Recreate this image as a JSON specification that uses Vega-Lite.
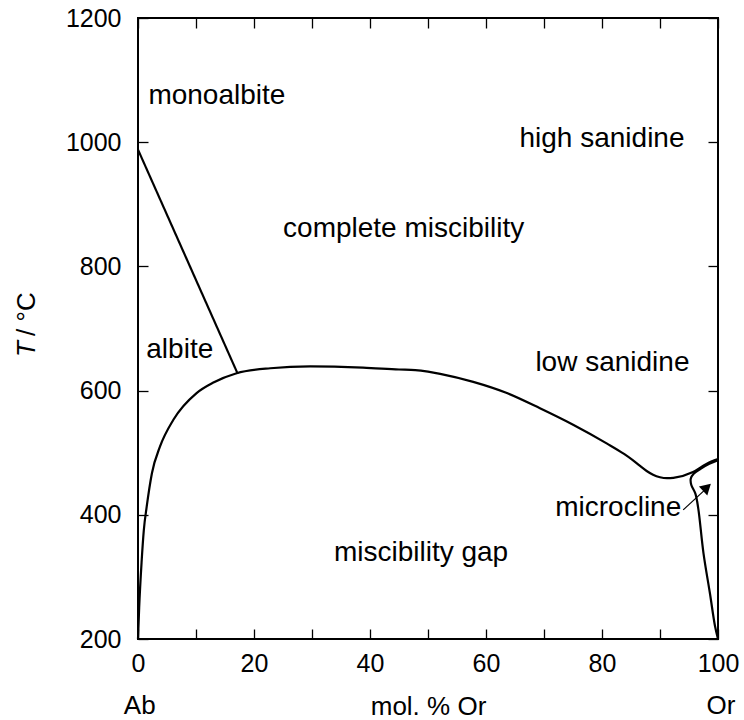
{
  "$schema": "https://vega.github.io/schema/vega-lite/v6.json",
  "width": 580,
  "height": 621,
  "autosize": "none",
  "padding": {"left": 138, "top": 18, "right": 26, "bottom": 81},
  "config": {
    "view": {"stroke": "black", "strokeWidth": 2},
    "font": "Liberation Sans",
    "axis": {"domain": false, "grid": false, "tickColor": "black", "tickWidth": 1.3, "tickSize": -10, "labelColor": "black", "labelFont": "Liberation Sans", "labelFontSize": 25, "labelFlush": false, "labelOverlap": false, "titleFont": "Liberation Sans", "titleFontSize": 26, "titleFontWeight": "normal", "titleColor": "black"}
  },
  "datasets": {
    "solvus": [
      {"curve": "solvus", "x": 0, "T": 200},
      {"curve": "solvus", "x": 0.2, "T": 250},
      {"curve": "solvus", "x": 0.64, "T": 327},
      {"curve": "solvus", "x": 1.0, "T": 375},
      {"curve": "solvus", "x": 1.5, "T": 413},
      {"curve": "solvus", "x": 2.4, "T": 467},
      {"curve": "solvus", "x": 3.8, "T": 510},
      {"curve": "solvus", "x": 6.1, "T": 553},
      {"curve": "solvus", "x": 10.1, "T": 596},
      {"curve": "solvus", "x": 13, "T": 613},
      {"curve": "solvus", "x": 17, "T": 628},
      {"curve": "solvus", "x": 22.8, "T": 636},
      {"curve": "solvus", "x": 29.7, "T": 639},
      {"curve": "solvus", "x": 38.8, "T": 637},
      {"curve": "solvus", "x": 45, "T": 634},
      {"curve": "solvus", "x": 47.8, "T": 633},
      {"curve": "solvus", "x": 50, "T": 630.5},
      {"curve": "solvus", "x": 52.1, "T": 627},
      {"curve": "solvus", "x": 57.8, "T": 614},
      {"curve": "solvus", "x": 63.6, "T": 596},
      {"curve": "solvus", "x": 69.3, "T": 571.5},
      {"curve": "solvus", "x": 75.1, "T": 544.6},
      {"curve": "solvus", "x": 80.8, "T": 515},
      {"curve": "solvus", "x": 83.8, "T": 498},
      {"curve": "solvus", "x": 85.3, "T": 488},
      {"curve": "solvus", "x": 86.5, "T": 479},
      {"curve": "solvus", "x": 87.7, "T": 470.5},
      {"curve": "solvus", "x": 88.8, "T": 464.5},
      {"curve": "solvus", "x": 90, "T": 460.5},
      {"curve": "solvus", "x": 91.2, "T": 459},
      {"curve": "solvus", "x": 92.3, "T": 459.6},
      {"curve": "solvus", "x": 95.7, "T": 469},
      {"curve": "solvus", "x": 98, "T": 482},
      {"curve": "solvus", "x": 100, "T": 489.6},
      {"curve": "monoalbite", "x": 0, "T": 988},
      {"curve": "monoalbite", "x": 17.2, "T": 627}
    ],
    "microcline": [
      {"i": 0, "x": 100, "T": 488},
      {"i": 1, "x": 98.5, "T": 482},
      {"i": 2, "x": 97, "T": 474},
      {"i": 3, "x": 95.8, "T": 466},
      {"i": 4, "x": 95.3, "T": 458},
      {"i": 5, "x": 95.4, "T": 448},
      {"i": 6, "x": 96.1, "T": 434},
      {"i": 7, "x": 96.6, "T": 410},
      {"i": 8, "x": 97.5, "T": 338},
      {"i": 9, "x": 98.6, "T": 274},
      {"i": 10, "x": 99.5, "T": 220},
      {"i": 11, "x": 100, "T": 200}
    ],
    "arrow": [
      {"i": 0, "x": 94.0, "T": 408},
      {"i": 1, "x": 97.6, "T": 439}
    ],
    "head": [
      {"x": 98.1, "T": 444}
    ],
    "labels": [
      {"label": "monoalbite", "x": 13.6, "T": 1061},
      {"label": "high sanidine", "x": 80, "T": 992},
      {"label": "complete miscibility", "x": 45.8, "T": 847},
      {"label": "albite", "x": 7.2, "T": 652},
      {"label": "low sanidine", "x": 81.8, "T": 632},
      {"label": "microcline", "x": 82.8, "T": 398},
      {"label": "miscibility gap", "x": 48.8, "T": 325}
    ],
    "ends": [
      {"label": "Ab", "x": 0.3, "T": 80},
      {"label": "Or", "x": 100.5, "T": 80}
    ],
    "ytitleT": [
      {"label": "T", "x": -17.8, "T": 654}
    ],
    "ytitleRest": [
      {"label": "/ °C", "x": -17.8, "T": 688}
    ]
  },
  "layer": [
    {
      "data": {"name": "solvus"},
      "mark": {"type": "line", "color": "black", "strokeWidth": 2.2, "interpolate": "monotone"},
      "encoding": {
        "x": {"field": "x", "type": "quantitative", "scale": {"domain": [0, 100], "nice": false},
          "axis": {"orient": "bottom", "values": [0, 10, 20, 30, 40, 50, 60, 70, 80, 90, 100], "labelExpr": "datum.value % 20 === 0 ? datum.label : ''", "labelPadding": 22, "title": "mol. % Or", "titlePadding": 17}},
        "y": {"field": "T", "type": "quantitative", "scale": {"domain": [200, 1200], "nice": false},
          "axis": {"orient": "left", "values": [200, 400, 600, 800, 1000, 1200], "format": "d", "labelPadding": 27, "title": null}},
        "detail": {"field": "curve"}
      }
    },
    {
      "data": {"name": "microcline"},
      "mark": {"type": "line", "color": "black", "strokeWidth": 2.2, "interpolate": "catmull-rom"},
      "encoding": {
        "x": {"field": "x", "type": "quantitative", "axis": {"orient": "top", "values": [0, 10, 20, 30, 40, 50, 60, 70, 80, 90, 100], "labels": false, "title": null}},
        "y": {"field": "T", "type": "quantitative", "axis": {"orient": "right", "values": [200, 400, 600, 800, 1000, 1200], "labels": false, "title": null}},
        "order": {"field": "i"}
      }
    },
    {
      "data": {"name": "arrow"},
      "mark": {"type": "line", "color": "black", "strokeWidth": 1.2},
      "encoding": {
        "x": {"field": "x", "type": "quantitative", "axis": null},
        "y": {"field": "T", "type": "quantitative", "axis": null},
        "order": {"field": "i"}
      }
    },
    {
      "data": {"name": "head"},
      "mark": {"type": "point", "shape": "triangle-up", "filled": true, "color": "black", "size": 150, "angle": 47, "opacity": 1},
      "encoding": {
        "x": {"field": "x", "type": "quantitative", "axis": null},
        "y": {"field": "T", "type": "quantitative", "axis": null}
      }
    },
    {
      "data": {"name": "labels"},
      "mark": {"type": "text", "fontSize": 28, "color": "black", "baseline": "alphabetic", "align": "center"},
      "encoding": {
        "x": {"field": "x", "type": "quantitative", "axis": null},
        "y": {"field": "T", "type": "quantitative", "axis": null},
        "text": {"field": "label"}
      }
    },
    {
      "data": {"name": "ends"},
      "mark": {"type": "text", "fontSize": 26, "color": "black", "baseline": "alphabetic", "align": "center"},
      "encoding": {
        "x": {"field": "x", "type": "quantitative", "axis": null},
        "y": {"field": "T", "type": "quantitative", "axis": null},
        "text": {"field": "label"}
      }
    },
    {
      "data": {"name": "ytitleT"},
      "mark": {"type": "text", "fontSize": 26, "fontStyle": "italic", "color": "black", "baseline": "alphabetic", "align": "left", "angle": 270},
      "encoding": {
        "x": {"field": "x", "type": "quantitative", "axis": null},
        "y": {"field": "T", "type": "quantitative", "axis": null},
        "text": {"field": "label"}
      }
    },
    {
      "data": {"name": "ytitleRest"},
      "mark": {"type": "text", "fontSize": 26, "color": "black", "baseline": "alphabetic", "align": "left", "angle": 270},
      "encoding": {
        "x": {"field": "x", "type": "quantitative", "axis": null},
        "y": {"field": "T", "type": "quantitative", "axis": null},
        "text": {"field": "label"}
      }
    }
  ],
  "resolve": {"axis": {"x": "independent", "y": "independent"}}
}
